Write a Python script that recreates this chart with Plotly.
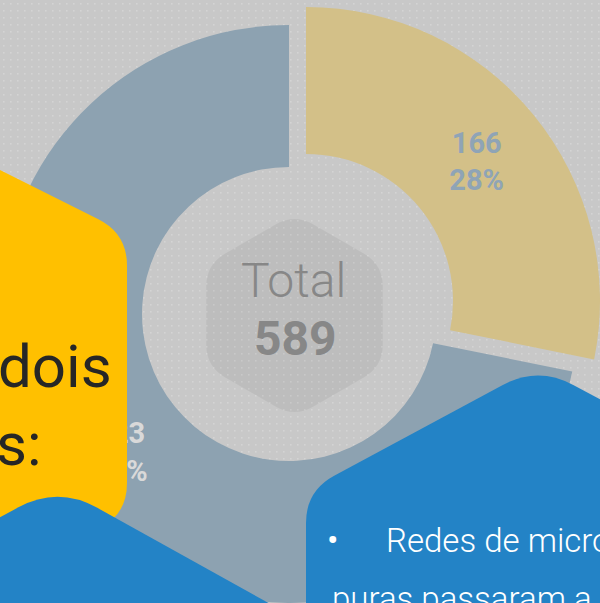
import math
import base64
import plotly.graph_objects as go

# ---------------- data ----------------
labels = ["Categoria A", "Categoria B"]
values = [166, 423]
slice_colors = ["#D3C088", "#8DA2B1"]
label_colors = ["#8FA4B6", "#D9D9D9"]
center_title = "Total"
center_value = sum(values)
side_lines = ["dois", "s:"]
bullet_lines = ["Redes de micro", "puras passaram a"]

W, H = 600, 603


def fx(x):
    return x / W


def fy(y):
    return 1 - y / H


def rounded_path(pts, radii):
    n = len(pts)
    segs = []
    for i in range(n):
        p, v, q = pts[i - 1], pts[i], pts[(i + 1) % n]
        r = radii[i] if isinstance(radii, (list, tuple)) else radii

        def towards(a, b, d):
            dx, dy = b[0] - a[0], b[1] - a[1]
            L = math.hypot(dx, dy)
            t = min(d / L, 0.5)
            return (a[0] + dx * t, a[1] + dy * t)

        segs.append((towards(v, p, r), v, towards(v, q, r)))
    a0 = segs[0][0]
    path = f"M {fx(a0[0]):.5f},{fy(a0[1]):.5f}"
    for i, (a, v, b) in enumerate(segs):
        if i > 0:
            path += f" L {fx(a[0]):.5f},{fy(a[1]):.5f}"
        path += f" Q {fx(v[0]):.5f},{fy(v[1]):.5f} {fx(b[0]):.5f},{fy(b[1]):.5f}"
    return path + " Z"


def domain_for(cx, cy, r):
    return dict(x=[fx(cx - r), fx(cx + r)], y=[fy(cy + r), fy(cy - r)])


fig = go.Figure()

# gray (large) slice – stays in place
fig.add_trace(go.Pie(
    labels=labels, values=values, sort=False, direction="clockwise", rotation=0,
    hole=147 / 289,
    domain=domain_for(289, 314, 289),
    marker=dict(colors=["rgba(0,0,0,0)", slice_colors[1]], line=dict(width=0)),
    texttemplate="%{value}<br>%{percent:.0%}",
    textposition=["none", "inside"],
    insidetextorientation="horizontal",
    insidetextfont=dict(family="Roboto", size=29, color=label_colors[1], weight=700),
    showlegend=False, hoverinfo="label+value+percent",
))

# gold slice – pulled out
fig.add_trace(go.Pie(
    labels=labels, values=values, sort=False, direction="clockwise", rotation=0,
    hole=0.5,
    domain=domain_for(306, 301, 294),
    marker=dict(colors=[slice_colors[0], "rgba(0,0,0,0)"], line=dict(width=0)),
    texttemplate="%{value}<br>%{percent:.0%}",
    textposition=["inside", "none"],
    insidetextorientation="horizontal",
    insidetextfont=dict(family="Roboto", size=29, color=label_colors[0], weight=700),
    showlegend=False, hoverinfo="label+value+percent",
))

# dotted background
svg = (
    f"<svg xmlns='http://www.w3.org/2000/svg' width='{W}' height='{H}'>"
    "<defs><pattern id='p' width='7' height='7' patternUnits='userSpaceOnUse'>"
    "<rect width='7' height='7' fill='#C8C8C8'/>"
    "<rect x='3' y='3' width='1.6' height='1.6' fill='#D4D4D4'/>"
    "</pattern></defs>"
    f"<rect width='{W}' height='{H}' fill='url(#p)'/></svg>"
)
bg_uri = "data:image/svg+xml;base64," + base64.b64encode(svg.encode()).decode()

shapes = [
    # center hexagon
    dict(type="path", xref="paper", yref="paper", layer="below",
         path=rounded_path([(294.5, 213.5), (382.8, 264.5), (382.8, 366.5),
                            (294.5, 417.5), (206.2, 366.5), (206.2, 264.5)], 22),
         fillcolor="rgba(0,0,0,0.05)", line=dict(width=0)),
    # yellow hexagon (left)
    dict(type="path", xref="paper", yref="paper", layer="above",
         path=rounded_path([(-400, -30), (127, 233.5), (127, 515), (-400, 778.5)],
                           [10, 32, 32, 10]),
         fillcolor="#FFC000", line=dict(width=0)),
    # blue hexagon (bottom-left)
    dict(type="path", xref="paper", yref="paper", layer="above",
         path=rounded_path([(58, 486), (400, 676), (400, 1200), (-300, 1200), (-300, 679)],
                           [45, 20, 10, 10, 20]),
         fillcolor="#2383C6", line=dict(width=0)),
    # blue hexagon (bottom-right)
    dict(type="path", xref="paper", yref="paper", layer="above",
         path=rounded_path([(538, 366), (800, 507), (800, 1200), (306, 1200), (306, 491)],
                           [40, 20, 10, 10, 32]),
         fillcolor="#2383C6", line=dict(width=0)),
]

annotations = [
    dict(text=center_title, x=fx(293), y=fy(280), xanchor="center", yanchor="middle",
         font=dict(family="Roboto", size=48, color="#878787", weight=300)),
    dict(text=f"{center_value}", x=fx(295), y=fy(338), xanchor="center", yanchor="middle",
         font=dict(family="Roboto", size=48, color="#878787", weight=700)),
    dict(text=side_lines[0], x=fx(114), y=fy(366), xanchor="right", yanchor="middle",
         font=dict(family="Roboto", size=60, color="#262626")),
    dict(text=side_lines[1], x=fx(44), y=fy(444), xanchor="right", yanchor="middle",
         font=dict(family="Roboto", size=60, color="#262626")),
    dict(text="•", x=fx(332), y=fy(540), xanchor="center", yanchor="middle",
         font=dict(family="Roboto", size=34, color="#FFFFFF")),
    dict(text=bullet_lines[0], x=fx(384), y=fy(540), xanchor="left", yanchor="middle",
         font=dict(family="Roboto", size=33, color="#FFFFFF", weight=300)),
    dict(text=bullet_lines[1], x=fx(330), y=fy(598), xanchor="left", yanchor="middle",
         font=dict(family="Roboto", size=33, color="#FFFFFF", weight=300)),
]
for a in annotations:
    a.update(xref="paper", yref="paper", showarrow=False)

fig.update_layout(
    width=W, height=H, autosize=False,
    margin=dict(l=0, r=0, t=0, b=0, pad=0),
    paper_bgcolor="#C8C8C8", plot_bgcolor="rgba(0,0,0,0)",
    showlegend=False,
    shapes=shapes,
    annotations=annotations,
    images=[dict(source=bg_uri, xref="paper", yref="paper", x=0, y=1, sizex=1, sizey=1,
                 xanchor="left", yanchor="top", sizing="stretch", layer="below")],
)

fig.write_html(
    "out.html",
    config={"displayModeBar": False},
    post_script="document.body.style.margin='0';document.body.style.overflow='hidden';",
)
